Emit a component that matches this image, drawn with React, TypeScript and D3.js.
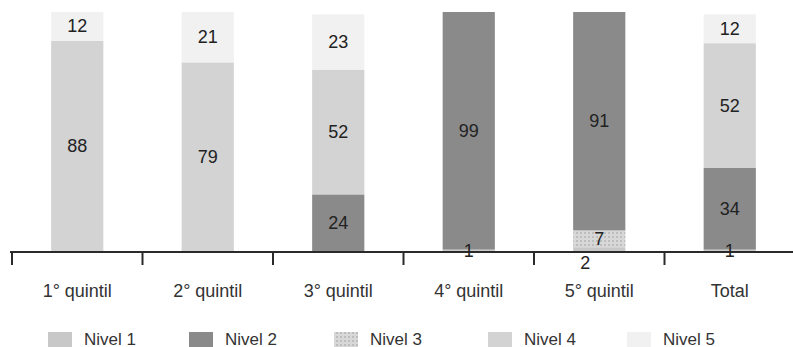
import React from "react";
import * as d3 from "d3";

const categories = ["1° quintil", "2° quintil", "3° quintil", "4° quintil", "5° quintil", "Total"];
const seriesNames = ["Nivel 1", "Nivel 2", "Nivel 3", "Nivel 4", "Nivel 5"];
// stacking order bottom -> top as drawn in the reference
const stackOrder = ["Nivel 1", "Nivel 3", "Nivel 2", "Nivel 4", "Nivel 5"];
const nivel1 = [0, 0, 0, 1, 2, 1];
const nivel2 = [0, 0, 24, 99, 91, 34];
const nivel3 = [0, 0, 0, 0, 7, 0];
const nivel4 = [88, 79, 52, 0, 0, 52];
const nivel5 = [12, 21, 23, 0, 0, 12];
const seriesValues: Record<string, number[]> = {
  "Nivel 1": nivel1,
  "Nivel 2": nivel2,
  "Nivel 3": nivel3,
  "Nivel 4": nivel4,
  "Nivel 5": nivel5,
};
const colors: Record<string, string> = {
  "Nivel 1": "#c8c8c8",
  "Nivel 2": "#8a8a8a",
  "Nivel 3": "url(#pat3)",
  "Nivel 4": "#d3d3d3",
  "Nivel 5": "#f1f1f1",
};

const W = 793;
const H = 347;
const FONT = "'Liberation Sans', Arial, sans-serif";

export default function App() {
  const x = d3.scaleBand<string>().domain(categories).range([12, 795]).padding(0);
  const y = d3.scaleLinear().domain([0, 100]).range([252, 12]);
  const barW = x.bandwidth() * 0.4;

  const table = categories.map((c, i) => {
    const row: any = { cat: c };
    seriesNames.forEach((s) => (row[s] = seriesValues[s][i]));
    return row;
  });
  const stacked = d3.stack<any>().keys(stackOrder)(table);

  const labels: { x: number; y: number; v: number }[] = [];
  categories.forEach((c, i) => {
    const items: { x: number; y: number; v: number }[] = [];
    stacked.forEach((layer) => {
      const d = layer[i];
      const v = d[1] - d[0];
      if (v <= 0) return;
      const cy = (y(d[0]) + y(d[1])) / 2;
      items.push({ x: (x(c) as number) + x.bandwidth() / 2, y: cy, v });
    });
    for (let k = 0; k < items.length; k++) {
      const it = items[k];
      const next = items[k + 1];
      if (next && Math.abs(next.y - it.y) < 14) {
        it.y = y(0) + 11;
        it.x -= 14;
      }
      labels.push(it);
    }
  });

  const legendX = [48, 189, 334, 488, 627];

  return (
    <svg width={W} height={H} style={{ position: "absolute", left: 0, top: 0, background: "#fff" }} fontFamily={FONT}>
      <defs>
        <pattern id="pat3" width="4" height="4" patternUnits="userSpaceOnUse">
          <rect width="4" height="4" fill="#d8d8d8" />
          <rect width="2" height="2" fill="#bdbdbd" />
        </pattern>
      </defs>
      <rect width={W} height={H} fill="#fff" />
      {stacked.map((layer) =>
        layer.map((d, i) => {
          const v = d[1] - d[0];
          if (v <= 0) return null;
          const c = categories[i];
          const cx = (x(c) as number) + x.bandwidth() / 2;
          return (
            <rect
              key={layer.key + i}
              x={cx - barW / 2}
              y={y(d[1])}
              width={barW}
              height={y(d[0]) - y(d[1])}
              fill={colors[layer.key]}
            />
          );
        })
      )}
      <line x1={10} x2={W} y1={y(0)} y2={y(0)} stroke="#2a2a2a" strokeWidth={2} />
      {categories.map((c) => (
        <line key={"t" + c} x1={x(c)} x2={x(c)} y1={y(0)} y2={y(0) + 13} stroke="#2a2a2a" strokeWidth={2} />
      ))}
      {labels.map((l, k) => (
        <text key={"l" + k} x={l.x} y={l.y} textAnchor="middle" dominantBaseline="central" fontSize={18} fill="#222">
          {l.v}
        </text>
      ))}
      {categories.map((c) => (
        <text
          key={"c" + c}
          x={(x(c) as number) + x.bandwidth() / 2}
          y={291}
          textAnchor="middle"
          dominantBaseline="central"
          fontSize={18}
          fill="#333"
        >
          {c}
        </text>
      ))}
      {seriesNames.map((s, k) => (
        <g key={"lg" + s}>
          <rect x={legendX[k]} y={332} width={24} height={15} fill={colors[s]} />
          <text x={legendX[k] + 36} y={339} dominantBaseline="central" fontSize={17} fill="#333">
            {s}
          </text>
        </g>
      ))}
    </svg>
  );
}
